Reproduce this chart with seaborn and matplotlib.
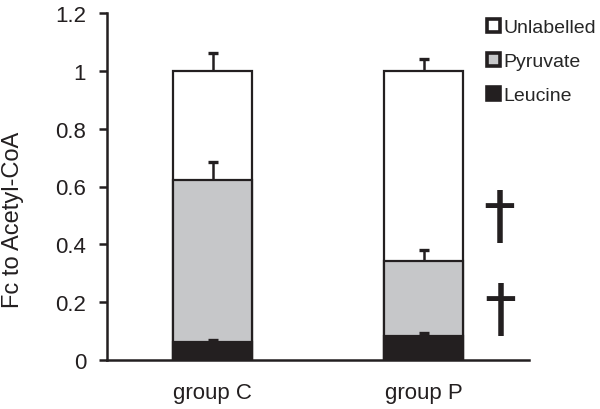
import matplotlib
matplotlib.use("Agg")
import matplotlib.pyplot as plt
import seaborn as sns
import pandas as pd
import numpy as np
from matplotlib.patches import Patch

groups = ["group C", "group P"]
leucine = [0.062, 0.083]
pyruvate = [0.562, 0.258]
unlabelled = [0.376, 0.659]
leucine_err = [0.007, 0.010]
pyruvate_err = [0.060, 0.040]
unlabelled_err = [0.060, 0.040]
yticks = [0, 0.2, 0.4, 0.6, 0.8, 1.0, 1.2]
yticklabels = ["0", "0.2", "0.4", "0.6", "0.8", "1", "1.2"]

sns.set_style("white")
plt.rcParams["font.family"] = ["Liberation Sans", "DejaVu Sans"]

ink = "#231f20"
gray = "#c6c7c9"

lev1 = np.array(leucine)
lev2 = lev1 + np.array(pyruvate)
lev3 = lev2 + np.array(unlabelled)

df = pd.DataFrame({"group": groups, "l1": lev1, "l2": lev2, "l3": lev3})

fig = plt.figure(figsize=(6.0, 4.1), dpi=100)
ax = fig.add_axes([107/600, 1 - 361/410, (529-107)/600, (361-14)/410])

bw = 0.375
sns.barplot(data=df, x="group", y="l3", color="white", edgecolor=ink, linewidth=1.6,
            width=bw, ax=ax, saturation=1, errorbar=None)
sns.barplot(data=df, x="group", y="l2", color=gray, edgecolor=ink, linewidth=1.6,
            width=bw, ax=ax, saturation=1, errorbar=None)
sns.barplot(data=df, x="group", y="l1", color=ink, edgecolor=ink, linewidth=1.6,
            width=bw, ax=ax, saturation=1, errorbar=None)

xs = np.arange(len(groups))
for tops, errs in [(lev1, leucine_err), (lev2, pyruvate_err), (lev3, unlabelled_err)]:
    cont = ax.errorbar(xs, tops, yerr=[np.zeros(len(errs)), errs], fmt="none", ecolor=ink,
                       elinewidth=1.8, capsize=3.8, capthick=2.4, zorder=5)
    caps = cont[1]
    if len(caps) > 0:
        caps[0].set_visible(False)

ax.set_xlim(-0.5, 1.5)
ax.set_ylim(0, 1.2)
ax.set_yticks(yticks)
ax.set_yticklabels(yticklabels, fontsize=16, color=ink)
ax.set_xticks(xs)
ax.set_xticklabels(groups, fontsize=16, color=ink)
ax.set_xlabel("")
ax.set_ylabel("Fc to Acetyl-CoA", fontsize=17, color=ink, va="center")
ax.yaxis.set_label_coords(-0.223, 0.406)
ax.tick_params(axis="y", direction="out", length=6, width=1.8, color=ink, pad=9, left=True)
ax.tick_params(axis="x", length=0, pad=16)
sns.despine(ax=ax)
for s in ["left", "bottom"]:
    ax.spines[s].set_linewidth(1.8)
    ax.spines[s].set_color(ink)

# daggers
ax.text(1.358, 0.49, "\u2020", ha="center", va="center", fontsize=46, color=ink,
        family="DejaVu Sans")
ax.text(1.362, 0.17, "\u2020", ha="center", va="center", fontsize=46, color=ink,
        family="DejaVu Sans")

handles = [Patch(facecolor="white", edgecolor=ink, linewidth=2.6, label="Unlabelled"),
           Patch(facecolor=gray, edgecolor=ink, linewidth=2.6, label="Pyruvate"),
           Patch(facecolor=ink, edgecolor=ink, linewidth=2.6, label="Leucine")]
fig.legend(handles=handles, loc="upper left", bbox_to_anchor=(487/600, 1 - 20/410),
           frameon=False, fontsize=14, handlelength=0.65, handleheight=0.65,
           handletextpad=0.2, labelspacing=0.85, borderaxespad=0, borderpad=0)

fig.savefig("out.png", dpi=100)
